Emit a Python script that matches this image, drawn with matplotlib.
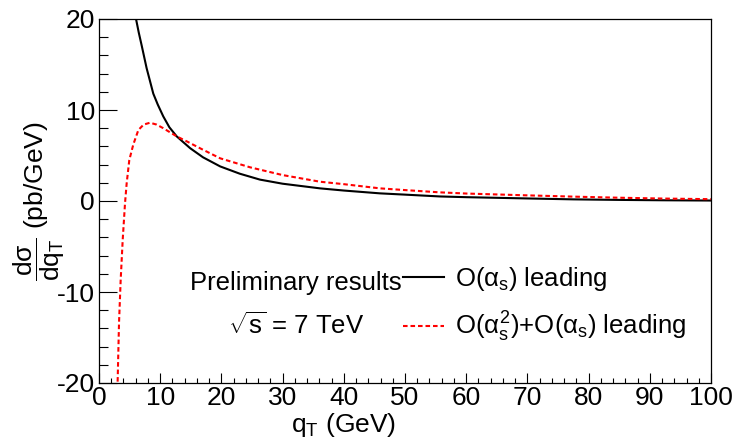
import numpy as np
import matplotlib
matplotlib.use("Agg")
import matplotlib.pyplot as plt
from matplotlib.ticker import MultipleLocator

plt.rcParams['font.family'] = ['Liberation Sans', 'DejaVu Sans']
plt.rcParams['mathtext.fontset'] = 'custom'
plt.rcParams['mathtext.rm'] = 'Liberation Sans'
plt.rcParams['mathtext.it'] = 'Liberation Sans'
plt.rcParams['mathtext.bf'] = 'Liberation Sans:bold'
plt.rcParams['axes.unicode_minus'] = False

# O(alpha_s) leading-order spectrum
qt_lo = [5.3, 6.05, 6.5, 6.97, 7.78, 8.87, 9.6, 10.5, 11.5, 12.7, 14.9, 17.0,
         19.8, 23.0, 26.3, 30.0, 36.1, 40.0, 45.9, 50.0, 55.7, 60.0, 70.0,
         77.5, 85.0, 92.0, 100.0]
xs_lo = [24.0, 20.0, 18.5, 17.1, 14.6, 11.8, 10.6, 9.3, 8.1, 7.1, 5.8, 4.8,
         3.8, 3.0, 2.35, 1.9, 1.39, 1.15, 0.84, 0.70, 0.50, 0.42, 0.28,
         0.18, 0.12, 0.08, 0.05]

# O(alpha_s^2) + O(alpha_s) leading
qt_nlo = [2.95, 3.05, 3.27, 3.54, 3.87, 4.25, 4.52, 4.95, 5.6, 6.43, 7.3, 8.33,
          9.4, 10.5, 12.7, 14.5, 16.5, 19.8, 24.7, 30.0, 36.1, 40.0, 45.9,
          50.0, 55.7, 60.0, 70.0, 77.5, 85.0, 92.0, 100.0]
xs_nlo = [-21.5, -19.7, -13.4, -8.7, -4.3, -0.26, 1.94, 4.5, 6.2, 7.8, 8.4, 8.6,
          8.4, 8.0, 7.1, 6.5, 5.8, 4.69, 3.7, 2.85, 2.12, 1.85, 1.39,
          1.2, 0.95, 0.82, 0.62, 0.48, 0.36, 0.27, 0.2]

fig = plt.figure(figsize=(7.34, 4.38), dpi=100)
ax = fig.add_axes([99/734, 1-383/438, 612/734, 364/438])

l1, = ax.plot(qt_lo, xs_lo, color='black', lw=1.5)
l2, = ax.plot(qt_nlo, xs_nlo, color='red', lw=1.5, linestyle=(0, (2.2, 1.4)))

ax.set_xlim(0, 100)
ax.set_ylim(-20, 20)

ax.xaxis.set_major_locator(MultipleLocator(10))
ax.xaxis.set_minor_locator(MultipleLocator(2))
ax.yaxis.set_major_locator(MultipleLocator(10))
ax.yaxis.set_minor_locator(MultipleLocator(2))
ax.tick_params(axis='both', which='both', direction='in', top=False, right=False,
               labelsize=19, width=0.8)
ax.tick_params(axis='y', which='major', length=13, pad=3)
ax.tick_params(axis='y', which='minor', length=6.5)
ax.tick_params(axis='x', which='major', length=7, pad=2.5)
ax.tick_params(axis='x', which='minor', length=3.5)
for s in ax.spines.values():
    s.set_linewidth(0.9)

ax.set_xlabel(r'q$_{\mathrm{T}}$ (GeV)', fontsize=19)
ax.xaxis.set_label_coords(0.40, -0.076)
ax.set_ylabel(r'$\dfrac{\mathrm{d\sigma}}{\mathrm{dq_T}}$ (pb/GeV)', fontsize=19,
              va='center')
ax.yaxis.set_label_coords(-0.098, 0.5)

ax.text(0.149, 0.275, 'Preliminary results', transform=ax.transAxes,
        fontsize=18.5, va='center', ha='left')
ax.text(0.211, 0.157, r'$\sqrt{\mathrm{s}}$ = 7 TeV', transform=ax.transAxes,
        fontsize=18.5, va='center', ha='left')

ax.legend([l1, l2], [r'O($\alpha_{\mathrm{s}}$) leading',
                     r'O($\alpha_{\mathrm{s}}^{2}$)+O($\alpha_{\mathrm{s}}$) leading'],
          loc='center left', bbox_to_anchor=(0.496, 0.215), frameon=False,
          fontsize=18.5, handlelength=1.6, handletextpad=0.45, labelspacing=0.65,
          borderpad=0, borderaxespad=0)

fig.savefig('out.png', dpi=100)
